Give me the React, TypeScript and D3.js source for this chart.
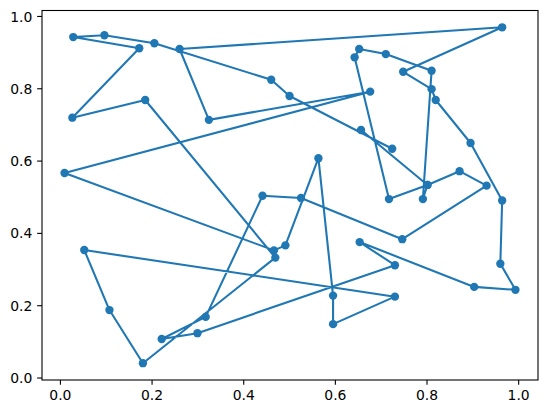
import React from "react";
import * as d3 from "d3";

const xs = [0.724, 0.500, 0.460, 0.205, 0.096, 0.028, 0.172, 0.026, 0.185, 0.469, 0.180, 0.107, 0.052, 0.730, 0.595, 0.595, 0.563, 0.491, 0.466, 0.009, 0.676, 0.324, 0.260, 0.964, 0.748, 0.810, 0.819, 0.895, 0.964, 0.960, 0.993, 0.903, 0.653, 0.730, 0.299, 0.221, 0.317, 0.441, 0.525, 0.746, 0.930, 0.871, 0.801, 0.717, 0.642, 0.652, 0.710, 0.810, 0.791, 0.801, 0.656];
const ys = [0.634, 0.780, 0.825, 0.926, 0.948, 0.943, 0.912, 0.720, 0.769, 0.333, 0.041, 0.188, 0.354, 0.225, 0.149, 0.228, 0.608, 0.367, 0.353, 0.567, 0.792, 0.714, 0.910, 0.970, 0.847, 0.799, 0.769, 0.650, 0.491, 0.316, 0.244, 0.252, 0.376, 0.312, 0.124, 0.108, 0.169, 0.504, 0.498, 0.384, 0.532, 0.572, 0.534, 0.495, 0.887, 0.910, 0.896, 0.850, 0.495, 0.534, 0.686];
const xTicks = [0.0, 0.2, 0.4, 0.6, 0.8, 1.0];
const yTicks = [0.0, 0.2, 0.4, 0.6, 0.8, 1.0];

const W = 547, H = 413;
const L = 42, R = 538, T = 10.5, B = 380;
const COLOR = "#1f77b4";
const FONT = "DejaVu Sans, sans-serif";

function padded(v: number[]): [number, number] {
  const lo = d3.min(v) as number, hi = d3.max(v) as number;
  const m = (hi - lo) * 0.05;
  return [lo - m, hi + m];
}

export default function App() {
  const x = d3.scaleLinear().domain(padded(xs)).range([L, R]);
  const y = d3.scaleLinear().domain(padded(ys)).range([B, T]);
  const pts = xs.map((v, i) => [v, ys[i]] as [number, number]);
  const line = d3.line<[number, number]>().x(d => x(d[0])).y(d => y(d[1]))(pts) || "";
  const tl = 4.86;
  return (
    <svg width={W} height={H} style={{ position: "absolute", left: 0, top: 0, background: "#fff" }}>
      <rect x={0} y={0} width={W} height={H} fill="#fff" />
      <path d={line} fill="none" stroke={COLOR} strokeWidth={2.08} strokeLinejoin="round" strokeLinecap="square" />
      {pts.map((p, i) => (
        <circle key={i} cx={x(p[0])} cy={y(p[1])} r={4.17} fill={COLOR} />
      ))}
      <rect x={L} y={T} width={R - L} height={B - T} fill="none" stroke="#000" strokeWidth={1.1} />
      {xTicks.map(t => (
        <g key={"x" + t}>
          <line x1={x(t)} x2={x(t)} y1={B} y2={B + tl} stroke="#000" strokeWidth={1.1} />
          <text x={x(t)} y={B + tl + 4.86 + 10.3} textAnchor="middle" fontFamily={FONT} fontSize={13.9} fill="#000">{t.toFixed(1)}</text>
        </g>
      ))}
      {yTicks.map(t => (
        <g key={"y" + t}>
          <line x1={L - tl} x2={L} y1={y(t)} y2={y(t)} stroke="#000" strokeWidth={1.1} />
          <text x={L - tl - 4.86} y={y(t) + 5.1} textAnchor="end" fontFamily={FONT} fontSize={13.9} fill="#000">{t.toFixed(1)}</text>
        </g>
      ))}
    </svg>
  );
}
